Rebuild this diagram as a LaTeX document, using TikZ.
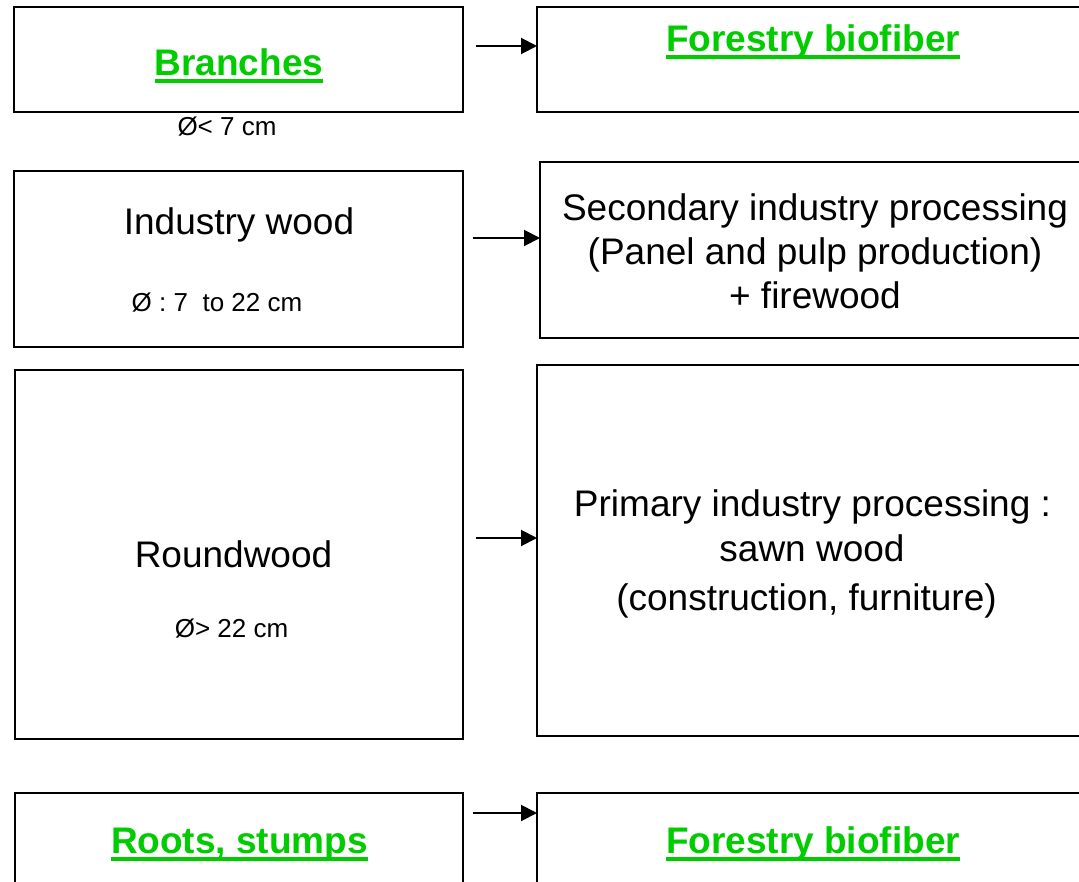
\documentclass[tikz,border=0pt]{standalone}
\usepackage{fontspec}
\setmainfont{Liberation Sans}
\usetikzlibrary{arrows.meta}
\definecolor{fgreen}{RGB}{0,204,0}
\newsavebox\gulbox
\newcommand\gul[1]{\sbox\gulbox{#1}\rlap{\usebox\gulbox}\rule[-0.21em]{\wd\gulbox}{0.1em}}
\tikzset{
  box/.style={draw=black, line width=2pt, inner sep=0pt, outer sep=0pt, fill=white},
  big/.style={inner sep=0pt, anchor=base, font=\fontsize{37}{44}\selectfont},
  small/.style={inner sep=0pt, anchor=base, font=\fontsize{26}{31}\selectfont},
  title/.style={inner sep=0pt, anchor=base, text=fgreen, font=\fontsize{37}{44}\selectfont\bfseries},
  arr/.style={line width=2pt, -{Triangle[length=16pt,width=16pt]}},
}
\begin{document}
\begin{tikzpicture}[x=1pt,y=-1pt]
\useasboundingbox (0,0) rectangle (1079,881);
\clip (0,0) rectangle (1079,881);
% left boxes
\node[box, minimum width=449pt, minimum height=105pt] (b1) at (238.5,59.5) {};
\node[box, minimum width=449pt, minimum height=176pt] (b2) at (238.5,259) {};
\node[box, minimum width=448pt, minimum height=369pt] (b3) at (239,554.5) {};
\node[box, minimum width=448pt, minimum height=127pt] (b4) at (239,856.5) {};
% right boxes
\node[box, minimum width=573pt, minimum height=105pt] (r1) at (823.5,59.5) {};
\node[box, minimum width=570pt, minimum height=176pt] (r2) at (825,250) {};
\node[box, minimum width=573pt, minimum height=371pt] (r3) at (823.5,550.5) {};
\node[box, minimum width=573pt, minimum height=127pt] (r4) at (823.5,856.5) {};
% texts
\node[title] (t1) at (239,75) {\gul{Branches}};
\node[small] (d1) at (227,135) {Ø< 7 cm};
\node[title] (u1) at (813,51) {\gul{Forestry biofiber}};
\node[big] (t2) at (239,234) {Industry wood};
\node[small] (d2) at (217,311) {Ø : 7\ \ to 22 cm};
\node[big] (u2a) at (815,220) {Secondary industry processing};
\node[big] (u2b) at (815,264) {(Panel and pulp production)};
\node[big] (u2c) at (815,308) {+ firewood};
\node[big] (t3) at (233.5,567) {Roundwood};
\node[small] (d3) at (231.5,637) {Ø> 22 cm};
\node[big] (u3a) at (812.5,516) {Primary industry processing :};
\node[big] (u3b) at (812,561) {sawn wood};
\node[big] (u3c) at (806.5,610) {(construction, furniture)};
\node[title] (t4) at (239.5,853) {\gul{Roots, stumps}};
\node[title] (u4) at (813,853) {\gul{Forestry biofiber}};
% arrows
\coordinate (a1) at (476,46);
\coordinate (a2) at (473,238);
\coordinate (a3) at (476,538);
\coordinate (a4) at (473,813);
\draw[arr] (a1) -- (r1.west |- a1);
\draw[arr] (a2) -- (r2.west |- a2);
\draw[arr] (a3) -- (r3.west |- a3);
\draw[arr] (a4) -- (r4.west |- a4);
\end{tikzpicture}
\end{document}
